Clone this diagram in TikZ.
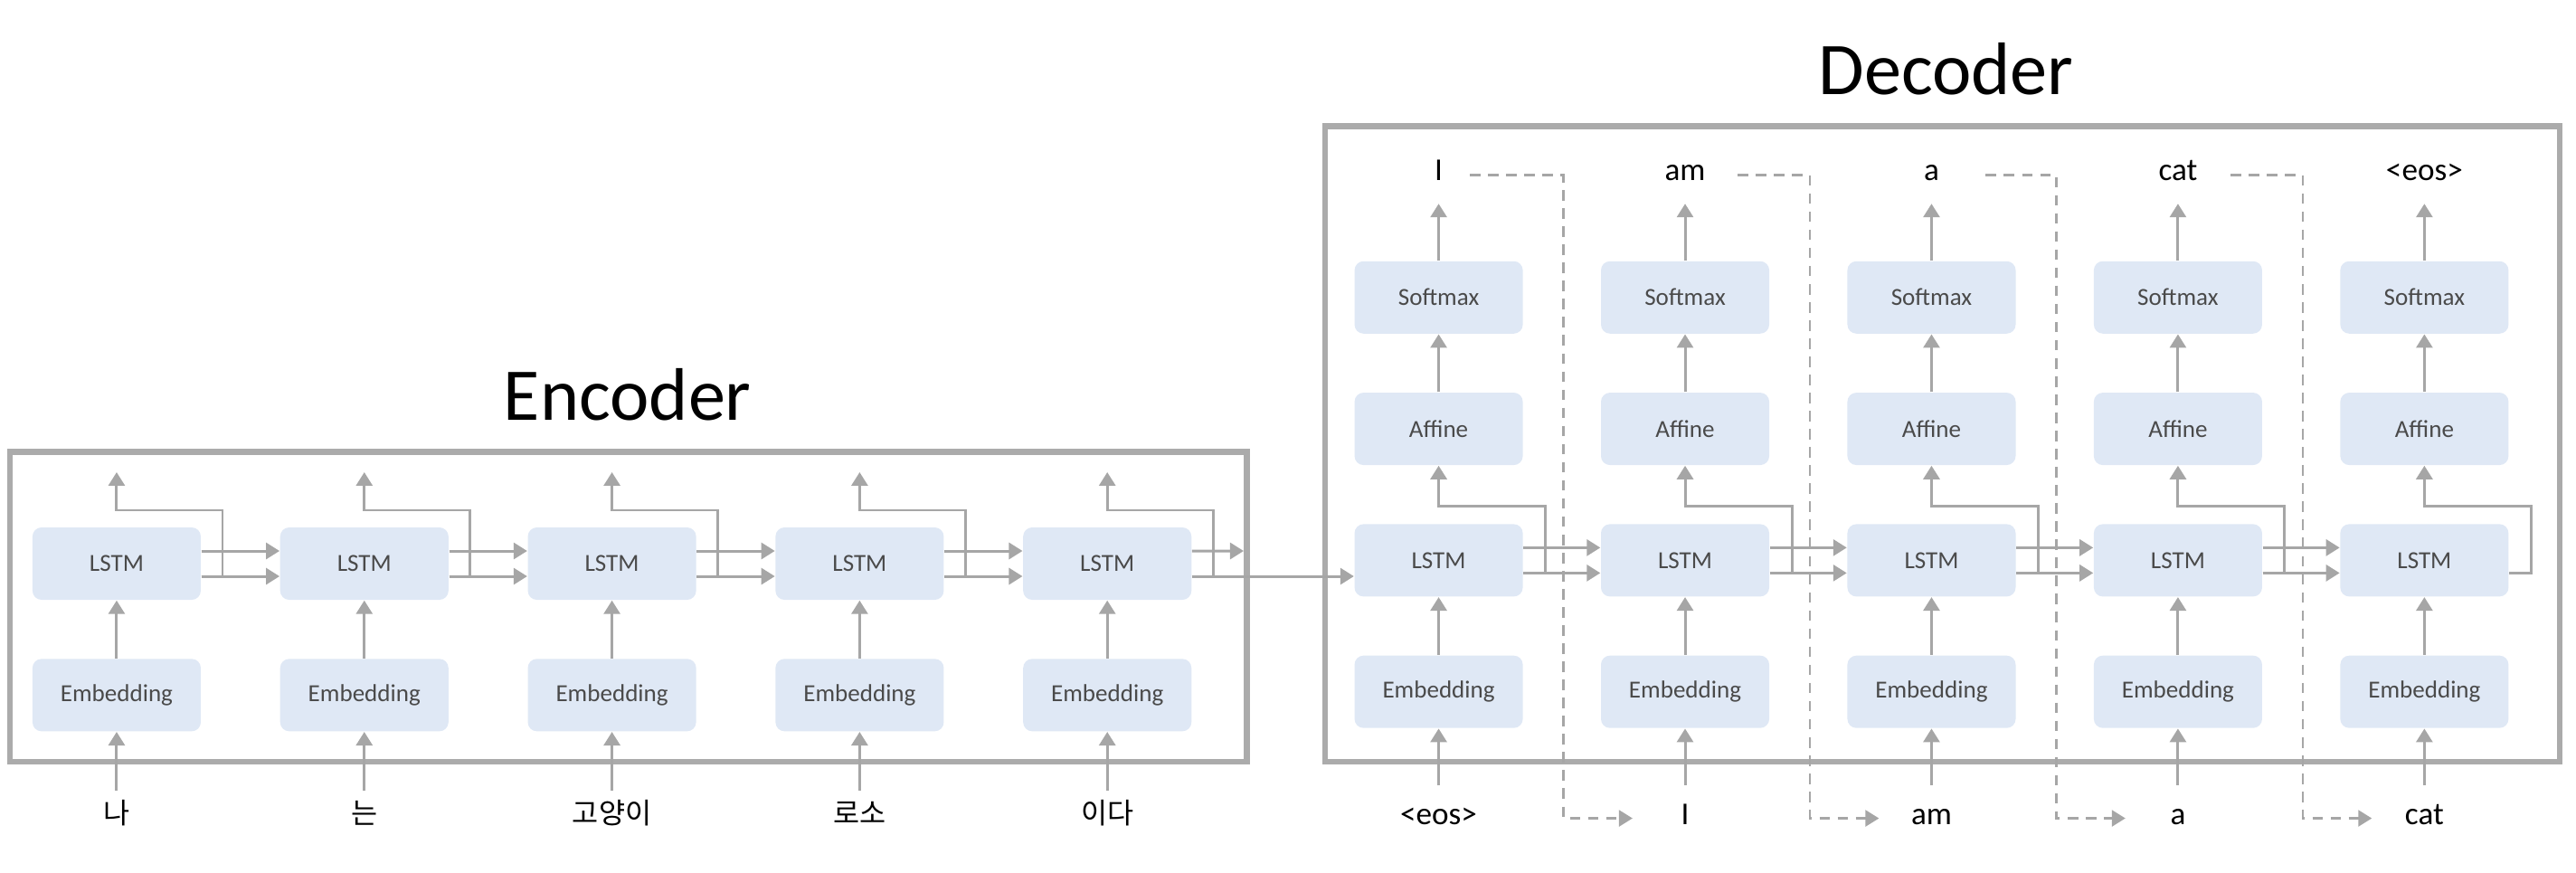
\documentclass[tikz,border=0pt]{standalone}
\usepackage{fontspec}
\setmainfont{Carlito}
\newfontfamily\kofont{Noto Sans CJK KR}
\usetikzlibrary{arrows.meta,positioning,calc}

\definecolor{boxblue}{HTML}{DFE8F5}
\definecolor{linegray}{HTML}{A6A6A6}
\definecolor{framegray}{HTML}{ABABAB}
\definecolor{textgray}{HTML}{4A4A4A}

\tikzstyle{layer} = [rectangle, fill=boxblue, rounded corners=0.1cm, minimum width=1.86cm,
    minimum height=0.8cm, inner sep=0pt, text=textgray, font=\fontsize{7.7}{9}\selectfont]
\tikzstyle{frame} = [draw=framegray, line width=1.9pt]
\tikzstyle{line} = [draw=linegray, line width=0.85pt]
\tikzstyle{arrow} = [line, -{Triangle[length=0.15cm, width=0.18cm]}]
\tikzstyle{feed} = [arrow, line width=0.7pt, dash pattern=on 3.3pt off 2.4pt]
\tikzstyle{word} = [anchor=base, inner sep=0pt, font=\fontsize{10}{12}\selectfont]
\tikzstyle{koword} = [word, font=\kofont\fontsize{9}{11}\selectfont]
\tikzstyle{title} = [anchor=base, inner sep=0pt, font=\fontsize{23.4}{28}\selectfont]

\begin{document}
\begin{tikzpicture}[x=0.01816cm, y=-0.01816cm]
	\useasboundingbox (0,0) rectangle (1568,531);

	% Frames
	\draw [frame] (6,275) rectangle (759,463.5);
	\draw [frame] (806.5,76.8) rectangle (1558,463.5);
	\node [title] (EncTitle) at (382,256) {Encoder};
	\node [title] (DecTitle) at (1184.5,57.5) {Decoder};

	% Encoder nodes
	\foreach \i/\w [evaluate=\i as \ex using 71+150.75*(\i-1)] in {1/나,2/는,3/고양이,4/로소,5/이다} {
		\node [layer] (EncLSTM\i) at (\ex,343) {LSTM};
		\node [layer] (EncEmb\i) at (\ex,423) {Embedding};
		\node [koword] (EncIn\i) at (\ex,501) {\w};
	}
	\coordinate (EncEdge) at (757,335.3);
	\coordinate (EncState) at ([yshift=-0.14cm]EncLSTM5.east);

	% Decoder nodes
	\foreach \i/\src/\tgt [evaluate=\i as \dx using 875.7+150*(\i-1)] in {1/<eos>/I,2/I/am,3/am/a,4/a/cat,5/cat/<eos>} {
		\node [layer] (DecEmb\i) at (\dx,421) {Embedding};
		\node [layer] (DecLSTM\i) at (\dx,341) {LSTM};
		\node [layer] (DecAff\i) at (\dx,261) {Affine};
		\node [layer] (DecSoft\i) at (\dx,181) {Softmax};
		\node [word] (DecIn\i) at (\dx,502) {\src};
		\node [word] (DecOut\i) at (\dx,110) {\tgt};
	}

	% Encoder arrows
	\foreach \i in {1,...,5} {
		\path [arrow] (EncIn\i |- 0,481) -- (EncEmb\i);
		\path [arrow] (EncEmb\i) -- (EncLSTM\i);
		\path [arrow] ([yshift=-0.14cm]EncLSTM\i.east) -| ([xshift=1.17cm, yshift=0.59cm]EncLSTM\i.center) -| ([yshift=1.01cm]EncLSTM\i.center);
	}
	\foreach \i [count=\j from 2] in {1,...,4} {
		\path [arrow] ([yshift=0.14cm]EncLSTM\i.east) -- ([yshift=0.14cm]EncLSTM\j.west);
		\path [arrow] ([yshift=-0.14cm]EncLSTM\i.east) -- ([yshift=-0.14cm]EncLSTM\j.west);
	}
	\path [arrow] ([yshift=0.14cm]EncLSTM5.east) -- (EncEdge);
	\path [arrow] (EncState) -- (EncState -| DecLSTM1.west);

	% Decoder arrows
	\foreach \i in {1,...,5} {
		\path [arrow] (DecIn\i |- 0,478) -- (DecEmb\i);
		\path [arrow] (DecEmb\i) -- (DecLSTM\i);
		\path [arrow] (DecAff\i) -- (DecSoft\i);
		\path [arrow] (DecSoft\i) -- (DecSoft\i |- 0,124);
		\path [arrow] ([yshift=-0.14cm]DecLSTM\i.east) -| ([xshift=1.18cm, yshift=0.6cm]DecLSTM\i.center) -| (DecAff\i);
	}
	\foreach \i/\s [count=\j from 2] in {1/19,2/32,3/33,4/32} {
		\path [arrow] ([yshift=0.14cm]DecLSTM\i.east) -- ([yshift=0.14cm]DecLSTM\j.west);
		\path [arrow] ([yshift=-0.14cm]DecLSTM\i.east) -- ([yshift=-0.14cm]DecLSTM\j.west);
		\path [feed] ($(DecOut\i.base)+(\s,-3.5)$) -- ($(DecOut\i.base)+(76,-3.5)$) |- ($(DecIn\j.base)+(-32,-4)$);
	}

\end{tikzpicture}
\end{document}
